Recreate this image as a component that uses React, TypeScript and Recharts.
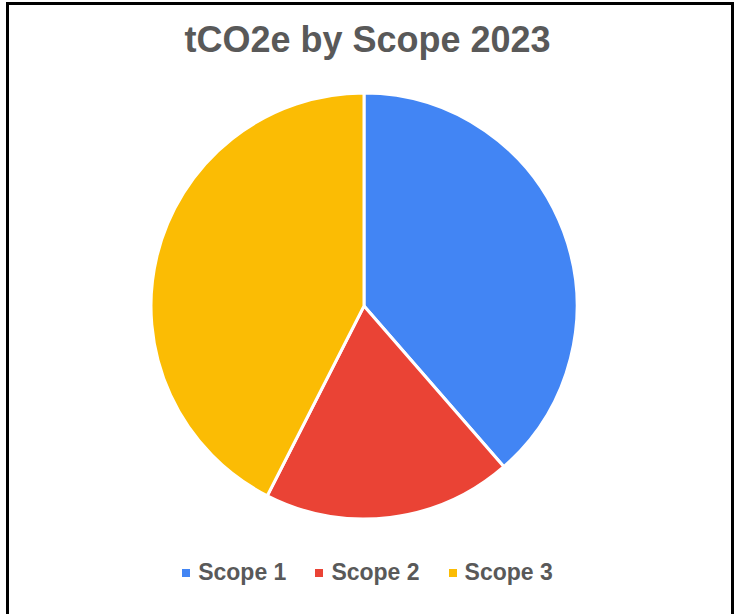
import { PieChart, Pie, Cell, Legend } from 'recharts';

const scopes = ['Scope 1', 'Scope 2', 'Scope 3'];
const shares = [38.6, 18.9, 42.5];
const COLORS = ['#4285F4', '#EA4335', '#FBBC04'];

const data = scopes.map((name, i) => ({ name, value: shares[i] }));

const FONT = '"Liberation Sans", Arial, sans-serif';
const TEXT = '#595959';

const renderLegend = (props: any) => {
  const { payload } = props;
  return (
    <div style={{ display: 'flex', justifyContent: 'center', alignItems: 'center', fontFamily: FONT }}>
      {payload.map((entry: any, index: number) => (
        <div key={`item-${index}`} style={{ display: 'flex', alignItems: 'center', marginLeft: index === 0 ? 0 : 29 }}>
          <span style={{ display: 'inline-block', width: 8, height: 8, background: entry.color, marginRight: 8 }} />
          <span style={{ fontSize: 23, fontWeight: 700, color: TEXT }}>{entry.value}</span>
        </div>
      ))}
    </div>
  );
};

export default function App() {
  return (
    <div style={{ position: 'absolute', left: 0, top: 0, width: 735, height: 614, background: '#fff', overflow: 'hidden' }}>
      <div style={{ position: 'absolute', left: 6, top: 2, width: 722, height: 620, border: '3px solid #000', borderBottom: 'none' }} />
      <div style={{ position: 'absolute', left: 0, top: 19, width: 735, textAlign: 'center', fontFamily: FONT, fontWeight: 700, fontSize: 36, color: TEXT }}>
        tCO2e by Scope 2023
      </div>
      <div style={{ position: 'absolute', left: 0, top: 0 }}>
        <PieChart width={735} height={614} margin={{ top: 0, right: 0, bottom: 0, left: 0 }}>
          <Pie
            data={data}
            dataKey="value"
            nameKey="name"
            cx={364}
            cy={306}
            outerRadius={213}
            startAngle={90}
            endAngle={-270}
            stroke="#fff"
            strokeWidth={3}
            isAnimationActive={false}
          >
            {data.map((_, index) => (
              <Cell key={`cell-${index}`} fill={COLORS[index % COLORS.length]} />
            ))}
          </Pie>
          <Legend content={renderLegend} wrapperStyle={{ left: 0, top: 559, width: 735 }} />
        </PieChart>
      </div>
    </div>
  );
}
